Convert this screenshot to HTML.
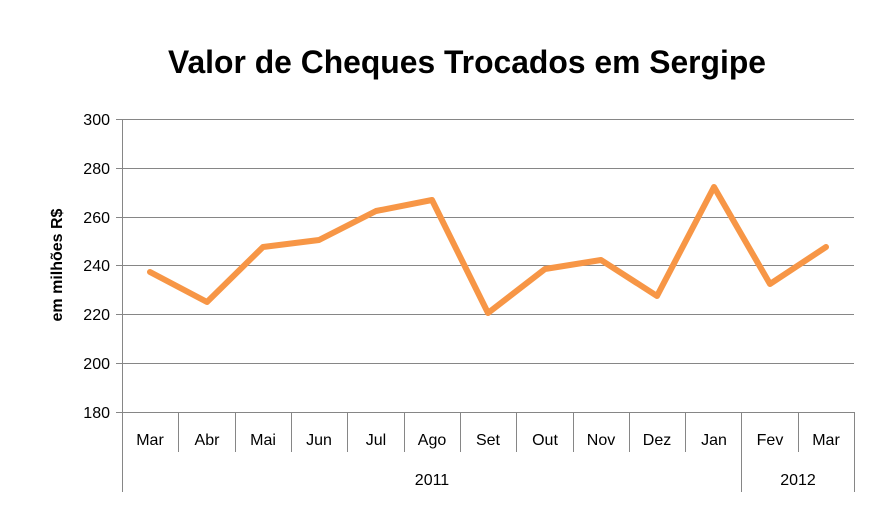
<!DOCTYPE html>
<html><head><meta charset="utf-8"><style>
html,body{margin:0;padding:0;background:#fff;}
svg text{font-family:"Liberation Sans",sans-serif;}
</style></head><body>
<svg width="882" height="517" viewBox="0 0 882 517" xmlns="http://www.w3.org/2000/svg">
<rect width="882" height="517" fill="#fff"/>
<text x="467" y="73" font-size="32" font-weight="bold" text-anchor="middle" textLength="598" lengthAdjust="spacingAndGlyphs">Valor de Cheques Trocados em Sergipe</text>
<g stroke="#868686" stroke-width="1">
<line x1="122" y1="119.5" x2="854" y2="119.5"/>
<line x1="122" y1="168.5" x2="854" y2="168.5"/>
<line x1="122" y1="217.5" x2="854" y2="217.5"/>
<line x1="122" y1="265.5" x2="854" y2="265.5"/>
<line x1="122" y1="314.5" x2="854" y2="314.5"/>
<line x1="122" y1="363.5" x2="854" y2="363.5"/>
<line x1="116" y1="412.5" x2="854" y2="412.5"/>
<line x1="122.5" y1="119" x2="122.5" y2="492"/>
<line x1="116" y1="119.5" x2="122" y2="119.5"/>
<line x1="116" y1="168.5" x2="122" y2="168.5"/>
<line x1="116" y1="217.5" x2="122" y2="217.5"/>
<line x1="116" y1="265.5" x2="122" y2="265.5"/>
<line x1="116" y1="314.5" x2="122" y2="314.5"/>
<line x1="116" y1="363.5" x2="122" y2="363.5"/>
<line x1="178.5" y1="412" x2="178.5" y2="452"/>
<line x1="235.5" y1="412" x2="235.5" y2="452"/>
<line x1="291.5" y1="412" x2="291.5" y2="452"/>
<line x1="347.5" y1="412" x2="347.5" y2="452"/>
<line x1="404.5" y1="412" x2="404.5" y2="452"/>
<line x1="460.5" y1="412" x2="460.5" y2="452"/>
<line x1="516.5" y1="412" x2="516.5" y2="452"/>
<line x1="573.5" y1="412" x2="573.5" y2="452"/>
<line x1="629.5" y1="412" x2="629.5" y2="452"/>
<line x1="685.5" y1="412" x2="685.5" y2="452"/>
<line x1="741.5" y1="412" x2="741.5" y2="492"/>
<line x1="798.5" y1="412" x2="798.5" y2="452"/>
<line x1="854.5" y1="412" x2="854.5" y2="492"/>
</g>
<g font-size="16" text-anchor="end" fill="#000">
<text x="110" y="125">300</text><text x="110" y="174">280</text><text x="110" y="223">260</text>
<text x="110" y="271">240</text><text x="110" y="320">220</text><text x="110" y="369">200</text><text x="110" y="418">180</text>
</g>
<g font-size="16" text-anchor="middle" fill="#000">
<text x="150" y="445">Mar</text><text x="207" y="445">Abr</text><text x="263" y="445">Mai</text><text x="319" y="445">Jun</text>
<text x="376" y="445">Jul</text><text x="432" y="445">Ago</text><text x="488" y="445">Set</text><text x="545" y="445">Out</text>
<text x="601" y="445">Nov</text><text x="657" y="445">Dez</text><text x="714" y="445">Jan</text><text x="770" y="445">Fev</text>
<text x="826" y="445">Mar</text>
<text x="432" y="485">2011</text><text x="798" y="485">2012</text>
</g>
<text transform="translate(62,265) rotate(-90)" font-size="16" font-weight="bold" text-anchor="middle">em milhões R$</text>
<polyline fill="none" stroke="#F79646" stroke-width="6" stroke-linejoin="round" stroke-linecap="round"
points="150,272 207,302 263,247 319,240 376,211 432,200 488,313 545,269 601,260 657,296 714,187 770,284 826,247"/>
</svg>
</body></html>
